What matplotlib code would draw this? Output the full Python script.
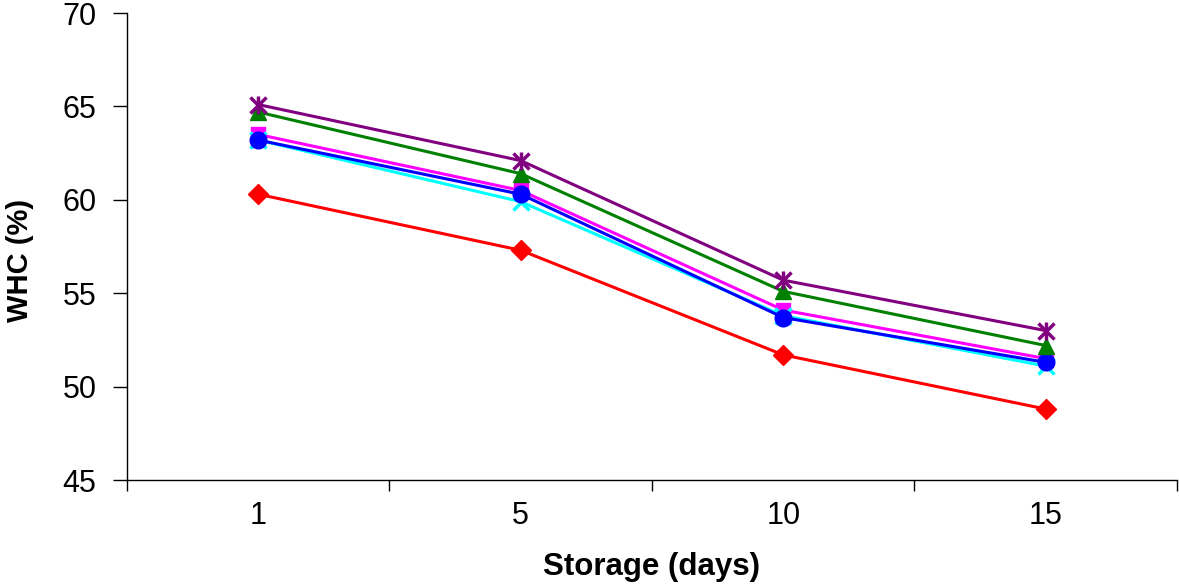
import matplotlib
matplotlib.use("Agg")
import matplotlib.pyplot as plt
import numpy as np

days = ["1", "5", "10", "15"]
red_vals = [60.3, 57.3, 51.7, 48.8]
magenta_vals = [63.5, 60.5, 54.1, 51.5]
cyan_vals = [63.2, 59.9, 53.8, 51.1]
blue_vals = [63.2, 60.3, 53.7, 51.3]
green_vals = [64.7, 61.4, 55.1, 52.2]
purple_vals = [65.1, 62.1, 55.7, 53.0]
y_ticks = [45, 50, 55, 60, 65, 70]

plt.rcParams['font.family'] = ['Liberation Sans', 'DejaVu Sans']

fig = plt.figure(figsize=(11.79, 5.84), dpi=100)
ax = fig.add_axes([0.1077, 0.178, 0.8906, 0.7997])

x = np.arange(len(days))
series = [
    (red_vals, "#ff0000", "D", 10),
    (magenta_vals, "#ff00ff", "s", 10),
    (cyan_vals, "#00ffff", "x", 11),
    (blue_vals, "#0000ff", "o", 12),
    (green_vals, "#008000", "^", 12),
    (purple_vals, "#800080", "x", 12),
]
for vals, col, mk, ms in series:
    ax.plot(x, vals, color=col, lw=2.2, marker=mk, ms=ms, mew=2.5 if mk == "x" else 1,
            mec=col, mfc=col)
# vertical bar to turn the purple x into an asterisk
ax.plot(x, purple_vals, ls="none", marker="|", ms=13, mew=2.5, color="#800080")

ax.set_xlim(-0.5, len(days) - 0.5)
ax.set_ylim(45, 70)
ax.set_yticks(y_ticks)
ax.set_xticks(x)
ax.set_xticklabels(days)
ax.set_xticks(np.arange(-0.5, len(days) + 0.5, 1), minor=True)
ax.tick_params(axis='x', which='major', length=0, labelsize=22, pad=15)
ax.tick_params(axis='x', which='minor', length=8, width=1, direction='out')
ax.tick_params(axis='y', length=10, width=1, direction='out', labelsize=22, pad=12)
for s in ["top", "right"]:
    ax.spines[s].set_visible(False)
for s in ["left", "bottom"]:
    ax.spines[s].set_linewidth(1)
ax.set_xlabel("Storage (days)", fontsize=22.5, fontweight='bold')
ax.set_ylabel("WHC (%)", fontsize=21, fontweight='bold')
ax.xaxis.set_label_coords(0.5, -0.155)
ax.yaxis.set_label_coords(-0.089, 0.47)

fig.savefig("out.png", dpi=100)
